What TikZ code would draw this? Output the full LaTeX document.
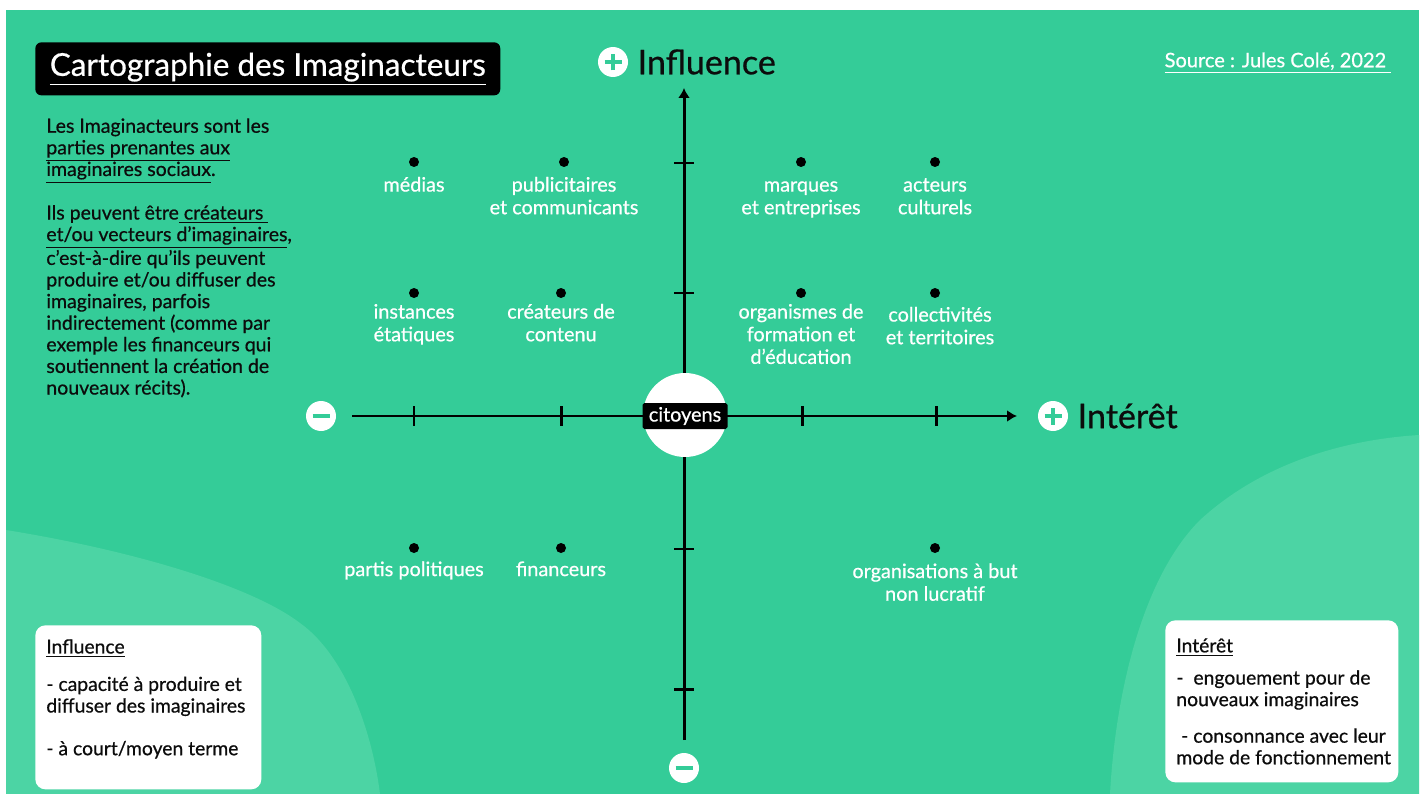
\documentclass[tikz,border=0pt]{standalone}
\usepackage{fontspec}
\setmainfont{Lato}[FakeBold=0.6]
\usetikzlibrary{positioning, arrows.meta}

\definecolor{bggreen}{RGB}{52,204,152}
\definecolor{blobgreen}{RGB}{76,212,164}
\definecolor{inkblack}{RGB}{12,12,12}

\begin{document}
\begin{tikzpicture}[x=0.02cm, y=-0.02cm,
    actor/.style={circle, fill=black, inner sep=0pt, minimum size=0.2cm},
    actorlabel/.style={text=white, align=center, font=\fontsize{11.3}{12.9}\selectfont, inner sep=0pt},
    titlebox/.style={rectangle, rounded corners=0.12cm, fill=black, text=white,
                     font=\fontsize{17.9}{20}\selectfont},
    infobox/.style={rectangle, rounded corners=0.2cm, fill=white, inner sep=0pt},
    boxtext/.style={align=left, font=\fontsize{11}{12.3}\selectfont, inner sep=0pt, text=inkblack},
    axis/.style={line width=1.7pt, -{Latex[length=0.2cm, width=0.24cm]}},
    axistick/.style={line width=1.7pt},
    signcircle/.style={circle, fill=white, minimum size=0.6cm, inner sep=0pt},
    signstroke/.style={line width=2.3pt, bggreen},
    plussign/.style={signcircle, path picture={
        \draw[signstroke] ([xshift=-1.7mm]path picture bounding box.center) -- ([xshift=1.7mm]path picture bounding box.center);
        \draw[signstroke] ([yshift=-1.7mm]path picture bounding box.center) -- ([yshift=1.7mm]path picture bounding box.center);}},
    minussign/.style={signcircle, path picture={
        \draw[signstroke] ([xshift=-1.7mm]path picture bounding box.center) -- ([xshift=1.7mm]path picture bounding box.center);}},
    axislabel/.style={font=\fontsize{19.4}{22}\selectfont, inner sep=0pt, text=inkblack}]

    % Background with the two lighter corner shapes
    \fill[white] (0,0) rectangle (1426,794);
    \fill[bggreen] (6,10) rectangle (1419,794);
    \fill[blobgreen] (6,530) .. controls (130,550) and (250,585) .. (300,623)
        .. controls (345,655) and (372,730) .. (380,794) -- (6,794) -- cycle;
    \fill[blobgreen] (1110,794) .. controls (1115,700) and (1140,580) .. (1200,520)
        .. controls (1260,465) and (1340,440) .. (1419,435) -- (1419,794) -- cycle;
    \useasboundingbox (0,0) rectangle (1426,794);

    % Title, source and introduction
    \node[titlebox, minimum width=9.3cm, minimum height=1.06cm, anchor=north west] (title) at (35,42)
        {\underline{Cartographie des Imaginacteurs}\hspace{0.15cm}};
    \node[text=white, font=\fontsize{11.4}{12}\selectfont, inner sep=0pt] (source) at (1278,63)
        {\underline{Source : Jules Colé, 2022\ }};
    \node[boxtext, font=\fontsize{11.1}{12.3}\selectfont, anchor=north west] (intro) at (46,118) {Les Imaginacteurs sont les\\
        \underline{parties prenantes aux}\\
        \underline{imaginaires sociaux}.\\[12.5pt]
        Ils peuvent être\underline{\ créateurs\ }\\
        \underline{et/ou vecteurs d’imaginaires},\\
        c’est-à-dire qu’ils peuvent\\
        produire et/ou diffuser des\\
        imaginaires, parfois\\
        indirectement (comme par\\
        exemple les financeurs qui\\
        soutiennent la création de\\
        nouveaux récits).};

    % Axes
    \coordinate (vbot) at (684,740);
    \coordinate (vtop) at (684,88);
    \coordinate (hleft) at (352,416);
    \coordinate (hright) at (1017,416);
    \draw[axis] (vbot) -- (vtop);
    \draw[axis] (hleft) -- (hright);
    \foreach \y in {163,293,549,689}
        \draw[axistick] (674,\y) -- (694,\y);
    \foreach \x in {414,561,802,936}
        \draw[axistick] (\x,406) -- (\x,426);

    % Axis ends
    \node[plussign] (plusinfl) at (613,62) {};
    \node[axislabel, right=0.18cm of plusinfl] (influence) {Influence};
    \node[minussign] (minusinfl) at (684,768) {};
    \node[minussign] (minusint) at (321,416) {};
    \node[plussign] (plusint) at (1053,416) {};
    \node[axislabel, right=0.18cm of plusint] (interet) {Intérêt};

    % Centre
    \node[circle, fill=white, minimum size=1.68cm] (centre) at (685,415) {};
    \node[fill=black, text=white, rounded corners=1pt, minimum width=1.7cm, minimum height=0.52cm,
          inner sep=1pt, font=\fontsize{11.3}{12}\selectfont] (citoyens) at (685,416) {citoyens};

    % Actors
    \node[actor] (medias) at (414,162) {};
    \node[actorlabel, below=0.16cm of medias] {\strut médias};
    \node[actor] (pub) at (564,162) {};
    \node[actorlabel, below=0.16cm of pub] {\strut publicitaires\\et communicants};
    \node[actor] (marques) at (801,162) {};
    \node[actorlabel, below=0.16cm of marques] {\strut marques\\et entreprises};
    \node[actor] (acteurs) at (935,162) {};
    \node[actorlabel, below=0.16cm of acteurs] {\strut acteurs\\culturels};
    \node[actor] (instances) at (414,293) {};
    \node[actorlabel, below=0.08cm of instances] {\strut instances\\étatiques};
    \node[actor] (createurs) at (561,293) {};
    \node[actorlabel, below=0.08cm of createurs] {\strut créateurs de\\contenu};
    \node[actor] (organismes) at (801,293) {};
    \node[actorlabel, below=0.08cm of organismes] {\strut organismes de\\formation et\\d'éducation};
    \node[actor] (collectivites) at (935,293) {};
    \node[actorlabel, below=0.14cm of collectivites, xshift=0.1cm] {\strut collectivités\\et territoires};
    \node[actor] (partis) at (414,548) {};
    \node[actorlabel, below=0.13cm of partis] {\strut partis politiques};
    \node[actor] (financeurs) at (561,548) {};
    \node[actorlabel, below=0.13cm of financeurs] {\strut financeurs};
    \node[actor] (organisations) at (935,548) {};
    \node[actorlabel, below=0.17cm of organisations] {\strut organisations à but\\non lucratif};

    % Legend boxes
    \node[infobox, minimum width=4.52cm, minimum height=3.28cm, anchor=north west] (inflbox) at (35,625) {};
    \node[boxtext, anchor=north west] (infltext) at (46,639) {\underline{Influence}\\[9pt]
        - capacité à produire et\\
        diffuser des imaginaires\\[12pt]
        - à court/moyen terme};
    \node[infobox, minimum width=4.66cm, minimum height=3.24cm, anchor=north west] (intbox) at (1165,620) {};
    \node[boxtext, anchor=north west] (inttext) at (1176,638) {\underline{Intérêt}\\[6pt]
        -\ \ engouement pour de\\
        nouveaux imaginaires\\[8.5pt]
        \hspace*{0.25em}- consonnance avec leur\\
        mode de fonctionnement};

\end{tikzpicture}
\end{document}
